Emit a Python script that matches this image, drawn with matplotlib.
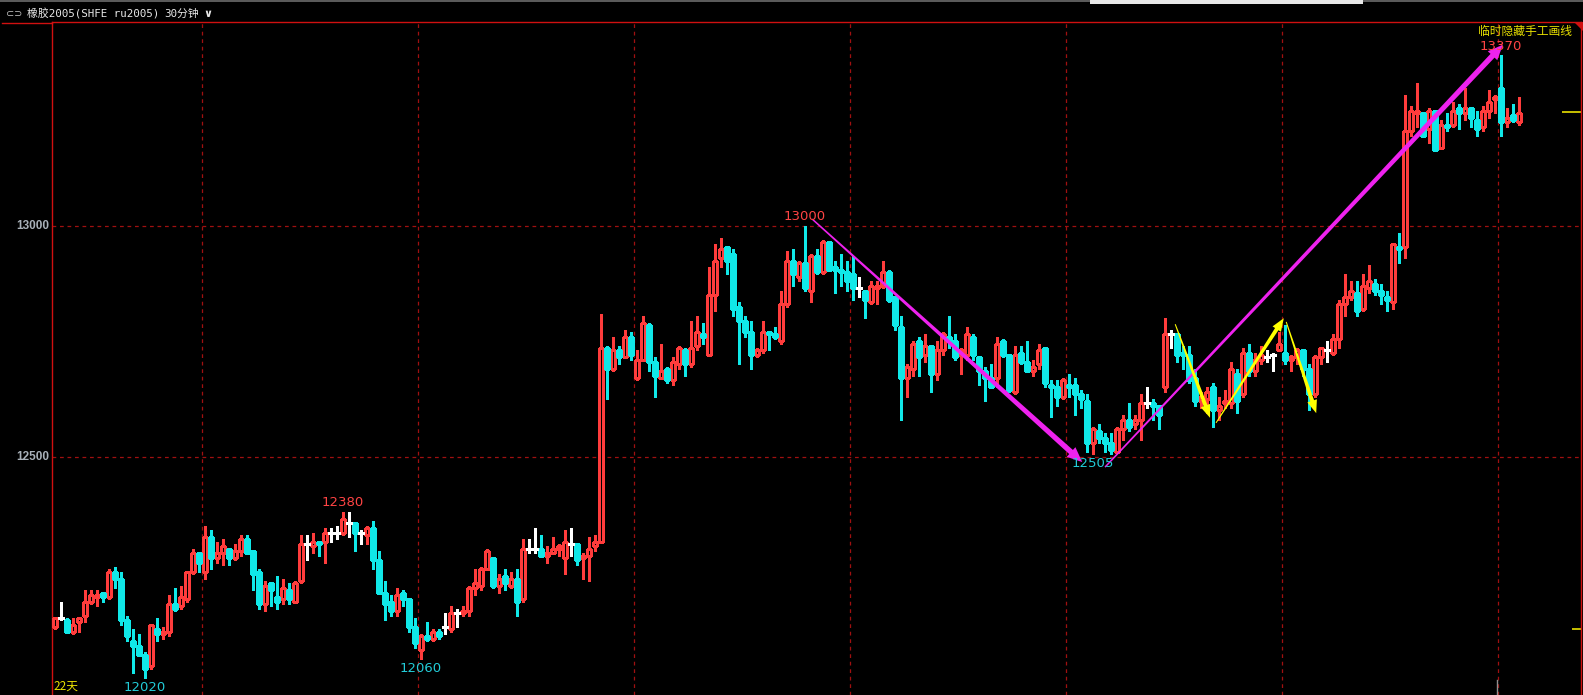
import matplotlib
matplotlib.use('Agg')
import matplotlib.pyplot as plt
from matplotlib.patches import Polygon, Rectangle
from matplotlib.lines import Line2D
import numpy as np

W, H = 1583, 695

# 30分钟K线 开/高/低/收
opens = [12130, 12150, 12145, 12120, 12140, 12155, 12185, 12195, 12205, 12195,
         12250, 12235, 12145, 12100, 12090, 12070, 12045, 12125, 12115, 12120,
         12180, 12175, 12190, 12250, 12290, 12250, 12325, 12280, 12290, 12300,
         12280, 12295, 12320, 12295, 12250, 12180, 12225, 12195, 12190, 12210,
         12185, 12230, 12310, 12305, 12315, 12315, 12335, 12335, 12335, 12355,
         12355, 12335, 12330, 12345, 12275, 12205, 12185, 12165, 12205, 12190,
         12130, 12080, 12110, 12105, 12120, 12130, 12125, 12160, 12160, 12165,
         12215, 12220, 12255, 12280, 12220, 12240, 12220, 12235, 12190, 12300,
         12300, 12300, 12285, 12290, 12300, 12280, 12310, 12310, 12280, 12285,
         12305, 12315, 12735, 12690, 12730, 12715, 12760, 12670, 12710, 12785,
         12705, 12670, 12690, 12665, 12700, 12730, 12700, 12740, 12765, 12720,
         12850, 12930, 12955, 12940, 12825, 12795, 12770, 12720, 12730, 12770,
         12765, 12750, 12830, 12925, 12890, 12920, 12860, 12935, 12900, 12965,
         12910, 12905, 12900, 12895, 12865, 12860, 12835, 12865, 12870, 12900,
         12845, 12780, 12670, 12690, 12750, 12720, 12740, 12680, 12730, 12760,
         12750, 12720, 12720, 12760, 12715, 12685, 12670, 12670, 12750, 12720,
         12640, 12725, 12705, 12685, 12700, 12735, 12655, 12650, 12630, 12655,
         12655, 12635, 12620, 12530, 12555, 12540, 12530, 12510, 12560, 12580,
         12570, 12580, 12615, 12615, 12610, 12650, 12765, 12765, 12725, 12720,
         12670, 12620, 12625, 12650, 12600, 12615, 12615, 12680, 12635, 12725,
         12685, 12710, 12715, 12720, 12730, 12725, 12710, 12715, 12730, 12690,
         12635, 12715, 12730, 12725, 12755, 12830, 12845, 12855, 12820, 12865,
         12875, 12860, 12845, 12835, 12955, 12955, 13205, 13245, 13245, 13210,
         13250, 13170, 13220, 13220, 13255, 13245, 13255, 13230, 13215, 13250,
         13275, 13300, 13225, 13240, 13225]
highs = [12150, 12185, 12150, 12150, 12150, 12210, 12210, 12210, 12205, 12255,
         12260, 12250, 12155, 12125, 12115, 12075, 12135, 12150, 12130, 12200,
         12215, 12220, 12250, 12300, 12290, 12350, 12340, 12315, 12320, 12300,
         12310, 12330, 12330, 12295, 12255, 12230, 12225, 12240, 12235, 12225,
         12230, 12330, 12330, 12335, 12315, 12345, 12345, 12350, 12380, 12380,
         12355, 12340, 12350, 12360, 12295, 12230, 12200, 12215, 12210, 12190,
         12150, 12115, 12140, 12125, 12125, 12160, 12175, 12170, 12175, 12220,
         12255, 12260, 12300, 12280, 12245, 12255, 12250, 12255, 12320, 12320,
         12345, 12330, 12305, 12325, 12310, 12340, 12345, 12310, 12290, 12325,
         12330, 12810, 12740, 12760, 12740, 12775, 12770, 12730, 12805, 12790,
         12715, 12745, 12695, 12715, 12740, 12735, 12795, 12805, 12790, 12910,
         12960, 12975, 12955, 12950, 12835, 12805, 12795, 12735, 12795, 12770,
         12780, 12860, 12945, 12950, 12925, 13000, 12940, 12950, 12970, 12965,
         12925, 12940, 12925, 12935, 12890, 12860, 12880, 12880, 12925, 12905,
         12845, 12805, 12700, 12750, 12760, 12765, 12740, 12750, 12770, 12805,
         12765, 12735, 12780, 12765, 12715, 12695, 12700, 12760, 12755, 12720,
         12740, 12740, 12750, 12710, 12745, 12735, 12665, 12665, 12670, 12680,
         12670, 12645, 12635, 12565, 12570, 12550, 12550, 12565, 12590, 12615,
         12590, 12635, 12650, 12625, 12610, 12800, 12775, 12765, 12740, 12740,
         12690, 12640, 12650, 12660, 12630, 12645, 12705, 12690, 12735, 12745,
         12725, 12740, 12730, 12725, 12770, 12785, 12720, 12735, 12730, 12700,
         12720, 12735, 12750, 12765, 12840, 12895, 12880, 12880, 12895, 12915,
         12885, 12875, 12860, 12960, 12985, 13285, 13260, 13310, 13245, 13255,
         13250, 13230, 13245, 13270, 13265, 13300, 13255, 13250, 13260, 13295,
         13285, 13370, 13255, 13265, 13280]
lows = [12125, 12145, 12120, 12115, 12120, 12140, 12180, 12175, 12185, 12190,
        12215, 12135, 12100, 12030, 12070, 12020, 12040, 12100, 12105, 12110,
        12165, 12170, 12185, 12245, 12250, 12235, 12255, 12270, 12265, 12265,
        12275, 12285, 12290, 12210, 12170, 12165, 12175, 12170, 12180, 12180,
        12185, 12225, 12275, 12290, 12285, 12270, 12315, 12320, 12330, 12325,
        12295, 12310, 12310, 12255, 12205, 12145, 12155, 12155, 12175, 12120,
        12085, 12060, 12100, 12100, 12105, 12115, 12120, 12130, 12155, 12155,
        12200, 12210, 12255, 12215, 12205, 12210, 12215, 12155, 12185, 12290,
        12290, 12285, 12270, 12290, 12285, 12245, 12285, 12265, 12235, 12230,
        12295, 12315, 12625, 12685, 12700, 12715, 12710, 12665, 12710, 12685,
        12630, 12670, 12660, 12655, 12690, 12675, 12695, 12730, 12745, 12720,
        12815, 12910, 12895, 12805, 12700, 12760, 12690, 12715, 12725, 12730,
        12755, 12745, 12825, 12870, 12880, 12860, 12835, 12895, 12895, 12905,
        12855, 12870, 12860, 12840, 12845, 12800, 12830, 12830, 12865, 12835,
        12775, 12580, 12630, 12675, 12675, 12705, 12640, 12665, 12720, 12735,
        12710, 12680, 12710, 12710, 12655, 12620, 12650, 12650, 12715, 12640,
        12635, 12700, 12685, 12675, 12690, 12650, 12585, 12610, 12625, 12630,
        12590, 12605, 12510, 12505, 12530, 12510, 12505, 12510, 12535, 12555,
        12560, 12535, 12605, 12580, 12560, 12640, 12735, 12705, 12690, 12660,
        12610, 12605, 12595, 12565, 12580, 12605, 12605, 12595, 12630, 12675,
        12675, 12700, 12705, 12685, 12730, 12700, 12685, 12700, 12675, 12600,
        12630, 12700, 12705, 12720, 12735, 12805, 12840, 12805, 12815, 12855,
        12850, 12830, 12815, 12820, 12920, 12930, 13195, 13215, 13195, 13180,
        13165, 13170, 13205, 13215, 13210, 13230, 13215, 13195, 13205, 13235,
        13245, 13195, 13215, 13225, 13220]
closes = [12150, 12150, 12120, 12135, 12150, 12185, 12200, 12200, 12195, 12250,
          12235, 12145, 12110, 12090, 12070, 12040, 12135, 12115, 12120, 12180,
          12170, 12195, 12250, 12290, 12270, 12325, 12280, 12290, 12305, 12280,
          12295, 12320, 12290, 12245, 12180, 12220, 12210, 12185, 12215, 12190,
          12225, 12310, 12310, 12315, 12310, 12335, 12335, 12335, 12365, 12355,
          12335, 12335, 12345, 12275, 12205, 12180, 12165, 12200, 12190, 12130,
          12095, 12110, 12105, 12120, 12110, 12130, 12160, 12160, 12165, 12215,
          12225, 12255, 12295, 12220, 12235, 12225, 12235, 12185, 12300, 12300,
          12300, 12285, 12290, 12300, 12305, 12315, 12310, 12275, 12285, 12300,
          12315, 12735, 12690, 12730, 12715, 12760, 12720, 12710, 12790, 12705,
          12675, 12685, 12665, 12705, 12735, 12700, 12735, 12770, 12760, 12850,
          12925, 12950, 12925, 12820, 12795, 12770, 12720, 12730, 12770, 12765,
          12760, 12830, 12925, 12895, 12920, 12865, 12935, 12900, 12965, 12905,
          12905, 12900, 12880, 12865, 12865, 12840, 12870, 12870, 12900, 12840,
          12785, 12670, 12695, 12745, 12715, 12740, 12680, 12730, 12765, 12750,
          12715, 12730, 12765, 12720, 12685, 12670, 12650, 12745, 12720, 12645,
          12720, 12705, 12685, 12695, 12730, 12660, 12650, 12630, 12665, 12650,
          12635, 12625, 12530, 12560, 12540, 12530, 12515, 12560, 12580, 12565,
          12580, 12615, 12615, 12610, 12590, 12765, 12765, 12720, 12720, 12665,
          12620, 12630, 12640, 12600, 12610, 12620, 12690, 12620, 12725, 12685,
          12710, 12720, 12715, 12720, 12745, 12710, 12715, 12730, 12690, 12635,
          12715, 12735, 12730, 12755, 12830, 12845, 12860, 12815, 12870, 12880,
          12860, 12850, 12840, 12960, 12950, 13205, 13250, 13250, 13195, 13250,
          13165, 13220, 13215, 13250, 13245, 13255, 13235, 13210, 13250, 13270,
          13280, 13225, 13235, 13230, 13245]

# 手工画线: (起点K线序号, 起点价格, 终点K线序号, 终点价格)
arrows = [(126.2, 13015, 171.2, 12488),
          (175.0, 12477, 241.3, 13393),
          (186.7, 12787, 192.5, 12584),
          (193.5, 12573, 204.8, 12800),
          (205.2, 12792, 210.2, 12594)]
arrow_colors = ['#ee22ee', '#ee22ee', '#ffff00', '#ffff00', '#ffff00']

high_marks = [13000, 12380, 13370]
low_marks = [12505, 12060, 12020]
price_ticks = [13000, 12500]
right_marks = [13247, 12126]

RED = '#ff3c3c'
CYAN = '#10e8e8'
GRID = '#a01010'

fig = plt.figure(figsize=(W / 100, H / 100), dpi=100, facecolor='black')
ax = fig.add_axes([52 / W, 0, 1529 / W, 673 / H])
ax.set_facecolor('black')
ax.set_xlim(-0.5, 254.33)
ax.set_ylim(11982.7, 13442.5)
ax.set_xticks([])
ax.set_yticks([])
for s in ['left', 'top', 'right']:
    ax.spines[s].set_color('#d01010')
    ax.spines[s].set_linewidth(1.0)
ax.spines['bottom'].set_visible(False)

o, h, l, c = (np.array(v, dtype=float) for v in (opens, highs, lows, closes))
x = np.arange(len(o))
up = c > o
dn = c < o
fl = c == o
cols = np.where(up, RED, np.where(dn, CYAN, '#ffffff'))

# 网格
for p in price_ticks:
    ax.axhline(p, color=GRID, lw=0.9, ls=(0, (3, 3)), zorder=1)
    ax.text(-1.0, p, str(p), color='#a8b0b8', fontsize=8.5, ha='right',
            va='center', family=['Liberation Sans', 'DejaVu Sans'],
            fontweight='bold', clip_on=False)
for gx in np.arange(24.5, len(o), 36):
    ax.axvline(gx, color=GRID, lw=0.9, ls=(0, (3, 3)), zorder=1)

# K线
ax.vlines(x, l, h, colors=cols, lw=0.9, zorder=2, antialiased=False)
ax.bar(x[up], (c - o)[up], bottom=o[up], width=0.7, facecolor='black',
       edgecolor=RED, lw=0.9, zorder=3, antialiased=False)
ax.bar(x[dn], (o - c)[dn], bottom=c[dn], width=0.7, facecolor=CYAN,
       edgecolor=CYAN, lw=0.9, zorder=3, antialiased=False)
ax.hlines(o[fl], x[fl] - 0.42, x[fl] + 0.42, colors='#ffffff', lw=0.9,
          zorder=3, antialiased=False)

# 高低点标注
num_font = ['Liberation Sans Narrow', 'DejaVu Sans']
for v in high_marks:
    i = highs.index(v)
    ax.text(i, v + 6, str(v), color='#ff4444', fontsize=9.5, ha='center',
            va='bottom', family=num_font, zorder=6)
for v in low_marks:
    i = lows.index(v)
    ax.text(i, v - 6, str(v), color='#22ccd8', fontsize=9.5, ha='center',
            va='top', family=num_font, zorder=6)


# 手工画线箭头 (尾细头粗)
def arrow_poly(x0, y0, x1, y1, w0, w1, hl, hw):
    p0 = ax.transData.transform((x0, y0))
    p1 = ax.transData.transform((x1, y1))
    d = p1 - p0
    u = d / np.hypot(*d)
    n = np.array([-u[1], u[0]])
    b = p1 - u * hl
    pts = [p0 + n * w0 / 2, b + n * w1 / 2, b + n * hw / 2, p1,
           b - n * hw / 2, b - n * w1 / 2, p0 - n * w0 / 2]
    return ax.transData.inverted().transform(np.array(pts))


for (x0, y0, x1, y1), col in zip(arrows, arrow_colors):
    if col == '#ee22ee':
        pts = arrow_poly(x0, y0, x1, y1, 1.5, 5.5, 15, 13)
    else:
        pts = arrow_poly(x0, y0, x1, y1, 1.0, 4.0, 13, 10)
    ax.add_patch(Polygon(pts, closed=True, facecolor=col, edgecolor='none',
                         zorder=5))

# 右侧黄色标记
ax.hlines(right_marks[0], 251.2, 254.33, colors='#e8e000', lw=1.2)
ax.hlines(right_marks[1], 252.8, 254.33, colors='#e8e000', lw=1.2)


def fx(px):
    return px / W


def fy(py):
    return 1 - py / H


# 顶部标题栏
fig.add_artist(Rectangle((0, fy(2)), 1, 2 / H, transform=fig.transFigure,
                         facecolor='#5a5a5a', edgecolor='none'))
fig.add_artist(Rectangle((fx(1090), fy(4)), 273 / W, 4 / H,
                         transform=fig.transFigure, facecolor='#e8e8e8',
                         edgecolor='none'))
fig.add_artist(Line2D([fx(2), fx(52)], [fy(22.5), fy(22.5)],
                      transform=fig.transFigure, color='#d01010', lw=1.0))
fig.add_artist(Polygon([[fx(1574), fy(22)], [fx(1583), fy(22)],
                        [fx(1583), fy(31)]], closed=True,
                       transform=fig.transFigure, facecolor='#d01010',
                       edgecolor='none'))
fig.add_artist(Line2D([fx(1497), fx(1497)], [fy(680), fy(695)],
                      transform=fig.transFigure, color='#909090', lw=1.0))

fig.text(fx(6), fy(14), '⊂⊃', color='#c0c0c0', fontsize=7, va='center',
         family=['DejaVu Sans'])
fig.text(fx(27), fy(14), '橡胶2005(SHFE ru2005)', color='#e8e8e8',
         fontsize=7.8, va='center',
         family=['DejaVu Sans Mono', 'Noto Sans CJK SC'])
fig.text(fx(164), fy(14), '30分钟', color='#e8e8e8', fontsize=7.8,
         va='center', family=['DejaVu Sans Mono', 'Noto Sans CJK SC'])
fig.text(fx(203), fy(14), '∨', color='#e8e8e8', fontsize=8, va='center',
         family=['DejaVu Sans'], fontweight='bold')

fig.text(fx(1572), fy(31), '临时隐藏手工画线', color='#e8e000', fontsize=8.5,
         ha='right', va='center', family=['Noto Sans CJK SC', 'DejaVu Sans'])
fig.text(fx(53), fy(686), '22天', color='#e8e000', fontsize=8.5,
         ha='left', va='center', family=['Noto Sans CJK SC', 'DejaVu Sans'])

fig.savefig('out.png', dpi=100, facecolor='black')
